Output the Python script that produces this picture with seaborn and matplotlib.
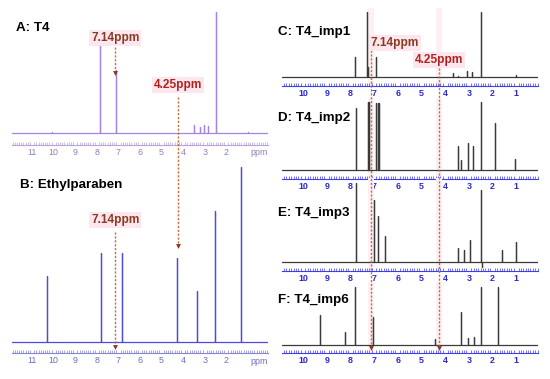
import matplotlib
matplotlib.use("Agg")
import matplotlib.pyplot as plt
from matplotlib.ticker import MultipleLocator
import seaborn as sns
import pandas as pd

# Peak lists: shift (ppm) and height (% of tallest peak in panel)
a_ppm = [10.10, 7.85, 7.10, 3.49, 3.22, 3.03, 2.85, 2.50, 1.00]
a_int = [1, 73, 52, 7, 5, 7, 6, 100, 1]

b_ppm = [10.30, 7.80, 6.83, 4.28, 3.36, 2.53, 1.32]
b_int = [38, 51, 51, 48, 29, 75, 100]

c_ppm = [7.81, 7.30, 7.26, 6.92, 3.67, 3.46, 3.08, 2.87, 2.50, 1.00]
c_int = [31, 100, 15, 31, 6, 2, 9, 8, 100, 3]

d_ppm = [7.77, 7.26, 7.20, 6.90, 6.85, 6.80, 3.45, 3.35, 3.04, 2.83, 2.50, 1.90, 1.05]
d_int = [91, 100, 100, 99, 99, 99, 35, 15, 40, 35, 100, 69, 16]

e_ppm = [7.77, 7.00, 6.85, 6.55, 3.45, 3.20, 2.95, 2.50, 2.45, 1.60, 1.00]
e_int = [100, 78, 58, 33, 18, 15, 28, 91, -6, 15, 25]

f_ppm = [9.28, 8.23, 7.80, 7.05, 4.43, 3.33, 3.04, 2.78, 2.50, 1.77]
f_int = [52, 22, 100, 48, 10, 57, 12, 14, 100, 100]

titles = ["A: T4", "B: Ethylparaben", "C: T4_imp1", "D: T4_imp2", "E: T4_imp3", "F: T4_imp6"]
marker_ppm = [7.14, 4.25]
marker_labels = ["7.14ppm", "4.25ppm"]
left_ticks = [11, 10, 9, 8, 7, 6, 5, 4, 3, 2]
right_ticks = [10, 9, 8, 7, 6, 5, 4, 3, 2, 1]

sns.set_theme(style="white")
plt.rcParams["font.family"] = ["Liberation Sans", "DejaVu Sans"]

W, H = 550, 379
fig = plt.figure(figsize=(W / 100, H / 100), dpi=100)


def stick_frame(ppm, inten, xlo, xhi):
    xs, ys = [xhi], [0]
    for p, h in sorted(zip(ppm, inten), reverse=True):
        xs += [p, p, p]
        ys += [0, h, 0]
    xs.append(xlo)
    ys.append(0)
    return pd.DataFrame({"ppm": xs, "intensity": ys})


def panel(ppm, inten, x0, x1, ytop, yruler, ybase, ypeak, xlim, ticks,
          color, spine_color, tick_color, bold):
    ax = fig.add_axes([x0 / W, 1 - yruler / H, (x1 - x0) / W, (yruler - ytop) / H])
    ax.patch.set_alpha(0)
    s = (ybase - ypeak) / 100.0
    df = stick_frame(ppm, inten, xlim[1], xlim[0])
    sns.lineplot(data=df, x="ppm", y="intensity", sort=False, estimator=None,
                 ax=ax, color=color, lw=0.9)
    ax.set_xlim(*xlim)
    ax.set_ylim(-(yruler - ybase) / s, (ybase - ytop) / s)
    sns.despine(ax=ax, left=True)
    ax.spines["bottom"].set_color(spine_color)
    ax.spines["bottom"].set_linewidth(0.8)
    ax.set_yticks([])
    ax.set_xticks(ticks)
    ax.set_xticklabels([str(t) for t in ticks])
    ax.xaxis.set_minor_locator(MultipleLocator(0.1))
    ax.tick_params(axis="x", which="major", direction="in", length=3.5, width=0.6,
                   color=spine_color, labelsize=6.4, labelcolor=tick_color, pad=2)
    ax.tick_params(axis="x", which="minor", direction="in", length=2, width=0.5,
                   color=spine_color, bottom=True)
    for lab in ax.get_xticklabels():
        lab.set_fontweight("bold" if bold else "normal")
    ax.set_xlabel("")
    ax.set_ylabel("")
    return ax


left_lim = (11.93, 0.07)
right_lim = (10.89, 0.08)

axA = panel(a_ppm, a_int, 12, 268, 8, 145, 133, 12, left_lim, left_ticks,
            "#a583e0", "#b9a3dc", "#8f80b8", False)
axB = panel(b_ppm, b_int, 12, 268, 160, 353, 342, 167, left_lim, left_ticks,
            "#4c4cd8", "#8585d8", "#6c6cc8", False)
axC = panel(c_ppm, c_int, 282, 538, 8, 86, 77, 12, right_lim, right_ticks,
            "#3a3a3a", "#3c3cf0", "#2a2ad0", True)
axD = panel(d_ppm, d_int, 282, 538, 98, 179, 170, 102, right_lim, right_ticks,
            "#3a3a3a", "#3c3cf0", "#2a2ad0", True)
axE = panel(e_ppm, e_int, 282, 538, 178, 271, 262, 183, right_lim, right_ticks,
            "#3a3a3a", "#3c3cf0", "#2a2ad0", True)
axF = panel(f_ppm, f_int, 282, 538, 282, 353, 345, 287, right_lim, right_ticks,
            "#3a3a3a", "#3c3cf0", "#2a2ad0", True)

for ax in (axA, axB):
    ax.text(0.965, -0.02, "ppm", transform=ax.transAxes, ha="center", va="top",
            fontsize=6.4, color=ax.xaxis.get_ticklabels()[0].get_color())

for ax in (axC, axD, axE, axF):
    for p in marker_ppm:
        ax.axvspan(p + 0.13, p - 0.13, color="#fdf0f4", zorder=0, lw=0)

# overlay in pixel coordinates for labels and guide lines
ov = fig.add_axes([0, 0, 1, 1], zorder=10)
ov.set_xlim(0, W)
ov.set_ylim(H, 0)
ov.axis("off")
ov.patch.set_alpha(0)


def xpix(ax, ppm):
    return ax.transData.transform((ppm, 0))[0]


guide = "#c2703c"


def guide_line(x, y0, y1):
    ov.plot([x, x], [y0, y1], color=guide, lw=1.0, ls=(0, (1.6, 1.2)))
    ov.plot([x], [y1], marker="v", color="#8b3a1a", ms=3.5, mec="none")


xa714 = xpix(axA, marker_ppm[0])
xa425 = xpix(axA, marker_ppm[1])
xc714 = xpix(axC, marker_ppm[0])
xc425 = xpix(axC, marker_ppm[1])

guide_line(xa714, 47, 73)
guide_line(xa425, 97, 246)
guide_line(xa714, 232, 347)
guide_line(xc714, 50, 348)
guide_line(xc425, 68, 348)

tag = dict(fontsize=8.6, fontweight="bold", ha="center", va="center",
           bbox=dict(boxstyle="square,pad=0.15", fc="#fde6ed", ec="none"))
ov.text(xa714, 38, marker_labels[0], color="#8b3a22", **tag)
ov.text(xa425, 85, marker_labels[1], color="#b0221c", **tag)
ov.text(xa714, 220, marker_labels[0], color="#8b3a22", **tag)
ov.text(xc714 + 24, 43, marker_labels[0], color="#8b3a22", **tag)
ov.text(xc425, 60, marker_labels[1], color="#b0221c", **tag)

title_pos = [(16, 28), (20, 185), (278, 32), (278, 118), (278, 213), (278, 300)]
for t, (x, y) in zip(titles, title_pos):
    ov.text(x, y, t, fontsize=9.6, fontweight="bold", color="black",
            ha="left", va="center")

fig.savefig("out.png", dpi=100)
